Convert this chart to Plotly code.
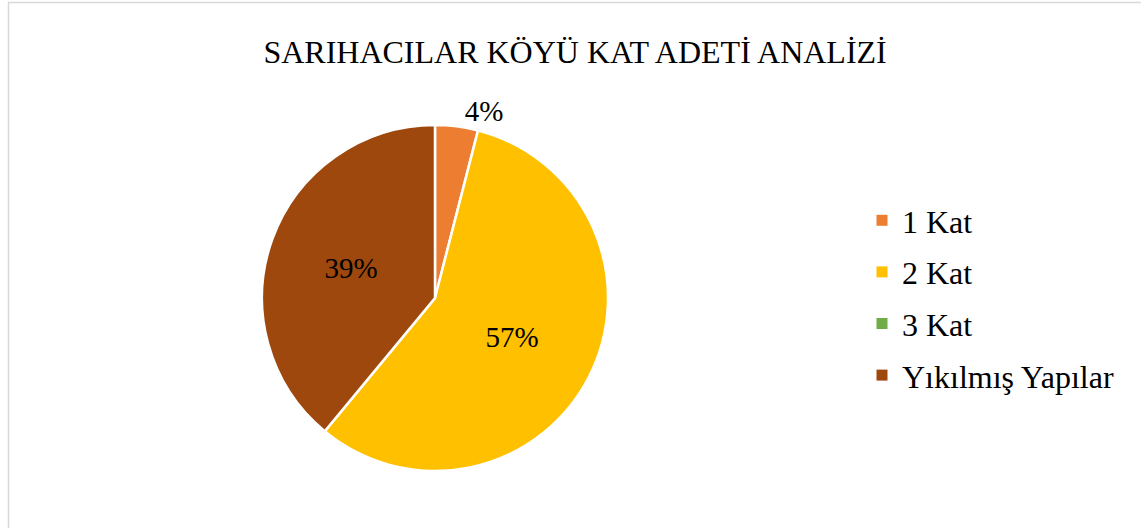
import plotly.graph_objects as go

categories = ["1 Kat", "2 Kat", "3 Kat", "Yıkılmış Yapılar"]
values = [4, 57, 0, 39]
colors = ["#ED7D31", "#FFC000", "#70AD47", "#9E480E"]
title_text = "SARIHACILAR KÖYÜ KAT ADETİ ANALİZİ"

W, H = 1141, 528
cx, cy, r = 435, 298, 173
SERIF = "Liberation Serif, Times New Roman, serif"

fig = go.Figure()
fig.add_trace(go.Pie(
    labels=categories,
    values=values,
    sort=False,
    direction="clockwise",
    rotation=0,
    marker=dict(colors=colors, line=dict(color="white", width=2.5)),
    texttemplate="%{percent:.0%}",
    textposition=["outside", "inside", "none", "inside"],
    insidetextorientation="horizontal",
    textfont=dict(family=SERIF, size=29, color="black"),
    showlegend=False,
    domain=dict(x=[(cx - r) / W, (cx + r) / W], y=[1 - (cy + r) / H, 1 - (cy - r) / H]),
    hoverinfo="label+percent",
))

# legend entries (one group per category so spacing can be controlled)
for name, col in zip(categories, colors):
    fig.add_trace(go.Scatter(
        x=[None], y=[None], mode="markers", name=name, legendgroup=name,
        marker=dict(symbol="square", size=11, color=col, line=dict(width=0)),
        showlegend=True, hoverinfo="skip",
    ))

fig.update_layout(
    width=W, height=H,
    margin=dict(l=0, r=0, t=0, b=0),
    paper_bgcolor="white",
    plot_bgcolor="white",
    font=dict(family=SERIF, color="black"),
    xaxis=dict(visible=False),
    yaxis=dict(visible=False),
    title=dict(text=title_text, x=0.504, xanchor="center", y=1 - 52 / H, yanchor="middle",
               font=dict(family=SERIF, size=32, color="black")),
    legend=dict(x=862 / W, xanchor="left", y=1 - 298 / H, yanchor="middle",
                font=dict(family=SERIF, size=32, color="black"),
                tracegroupgap=7, itemsizing="trace",
                bgcolor="rgba(0,0,0,0)"),
    shapes=[dict(type="rect", xref="paper", yref="paper",
                 x0=8.5 / W, x1=1.02, y0=-0.02, y1=1 - 2.5 / H,
                 line=dict(color="#D9D9D9", width=1.5), layer="below")],
)

fig.write_html("out.html", config={"displayModeBar": False},
               post_script="document.body.style.margin='0';document.body.style.overflow='hidden';")
